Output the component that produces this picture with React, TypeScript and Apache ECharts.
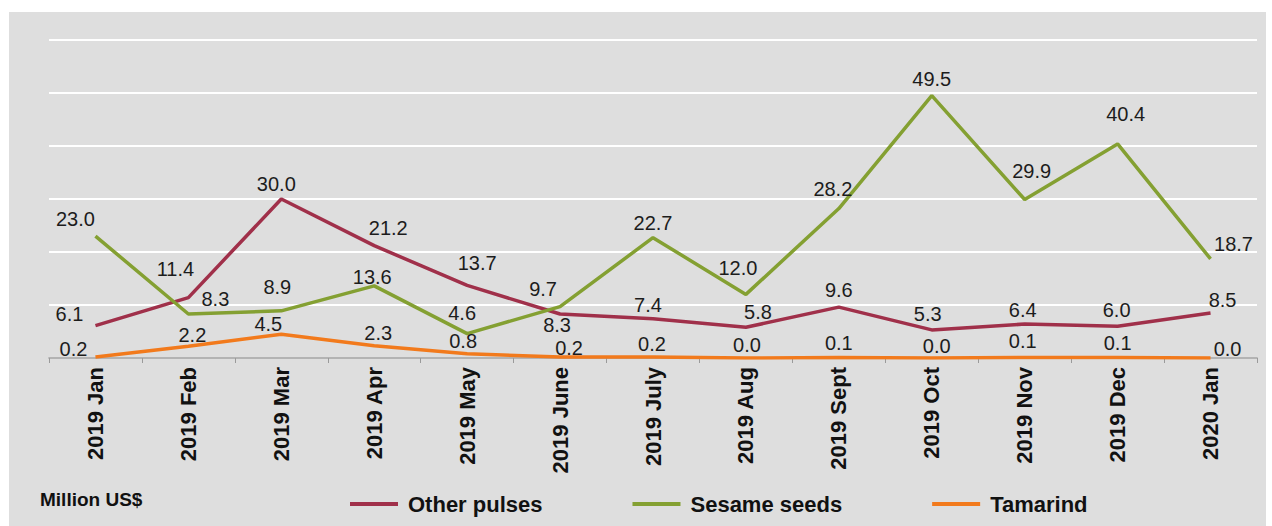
import React, { useEffect, useRef } from "react";
import * as echarts from "echarts";

const categories = [
  "2019 Jan", "2019 Feb", "2019 Mar", "2019 Apr", "2019 May", "2019 June",
  "2019 July", "2019 Aug", "2019 Sept", "2019 Oct", "2019 Nov", "2019 Dec", "2020 Jan",
];
const otherPulses = [6.1, 11.4, 30.0, 21.2, 13.7, 8.3, 7.4, 5.8, 9.6, 5.3, 6.4, 6.0, 8.5];
const sesameSeeds = [23.0, 8.3, 8.9, 13.6, 4.6, 9.7, 22.7, 12.0, 28.2, 49.5, 29.9, 40.4, 18.7];
const tamarind = [0.2, 2.2, 4.5, 2.3, 0.8, 0.2, 0.2, 0.0, 0.1, 0.0, 0.1, 0.1, 0.0];

const unitLabel = "Million US$";
const seriesNames = ["Other pulses", "Sesame seeds", "Tamarind"];

// label placement (style only)
const pulsesLabelOffsets = [
  [-26, -12], [-13, -29], [-5, -15], [14, -18], [10, -22], [-3, 11], [-5, -14],
  [12, -15], [0, -17], [-4, -16], [-2, -14], [-1, -16], [12, -13],
];
const sesameLabelOffsets = [
  [-20, -17], [27, -15], [-4, -24], [-2, -9], [-5, -21], [-17, -18], [0, -15],
  [-8, -26], [-6, -20], [0, -17], [7, -29], [8, -30], [23, -15],
];
const tamarindLabelOffsets = [
  [-22, -8], [4, -11], [-13, -10], [4, -13], [-4, -13], [9, -9], [-1, -13],
  [1, -13], [0, -14], [5, -12], [-2, -16], [0, -14], [17, -9],
];

const FONT = "'Liberation Sans', Arial, Helvetica, sans-serif";

function makeSeries(name: string, values: number[], offsets: number[][], color: string) {
  return {
    name,
    type: "line",
    symbol: "circle",
    symbolSize: 1,
    showSymbol: true,
    lineStyle: { color, width: 3.5 },
    itemStyle: { color, opacity: 0 },
    label: {
      show: true,
      position: "inside",
      fontFamily: FONT,
      fontSize: 20,
      color: "#1c1c1c",
      opacity: 1,
      formatter: (p: any) => Number(p.value).toFixed(1),
    },
    data: values.map((v, i) => ({ value: v, label: { offset: offsets[i] } })),
  };
}

export default function App() {
  const ref = useRef<HTMLDivElement>(null);
  useEffect(() => {
    if (!ref.current) return;
    const chart = echarts.init(ref.current, undefined, { renderer: "svg" });
    chart.setOption({
      animation: false,
      backgroundColor: "#ffffff",
      graphic: [
        {
          type: "rect",
          shape: { x: 9, y: 12, width: 1257, height: 520 },
          style: { fill: "#dedede" },
          z: -10,
          silent: true,
        },
        {
          type: "text",
          left: 40,
          top: 490,
          style: {
            text: unitLabel,
            font: `bold 19px ${FONT}`,
            fill: "#111",
          },
        },
      ],
      grid: { left: 49, right: 15, top: 40, bottom: 168, containLabel: false },
      legend: {
        left: 345,
        top: 488,
        icon: "rect",
        itemWidth: 48,
        itemHeight: 4,
        itemGap: 90,
        itemStyle: { opacity: 1 },
        data: seriesNames,
        textStyle: {
          fontFamily: FONT,
          fontSize: 22,
          fontWeight: "bold",
          color: "#111",
          padding: [0, 0, 0, 5],
        },
      },
      xAxis: {
        type: "category",
        data: categories,
        boundaryGap: true,
        axisLine: { lineStyle: { color: "#9a9a9a", width: 1.5 } },
        axisTick: { show: true, length: 5, lineStyle: { color: "#9a9a9a" } },
        axisLabel: {
          rotate: 90,
          margin: 9,
          fontFamily: FONT,
          fontSize: 22,
          fontWeight: "bold",
          color: "#111",
        },
      },
      yAxis: {
        type: "value",
        min: 0,
        max: 60,
        interval: 10,
        axisLabel: { show: false },
        axisLine: { show: false },
        axisTick: { show: false },
        splitLine: { lineStyle: { color: "#ffffff", width: 2 } },
      },
      series: [
        makeSeries(seriesNames[0], otherPulses, pulsesLabelOffsets, "#a0304a"),
        makeSeries(seriesNames[1], sesameSeeds, sesameLabelOffsets, "#84a032"),
        makeSeries(seriesNames[2], tamarind, tamarindLabelOffsets, "#f27a1c"),
      ],
    });
    return () => chart.dispose();
  }, []);
  return (
    <div
      ref={ref}
      style={{ position: "absolute", left: 0, top: 0, width: 1272, height: 526 }}
    />
  );
}
